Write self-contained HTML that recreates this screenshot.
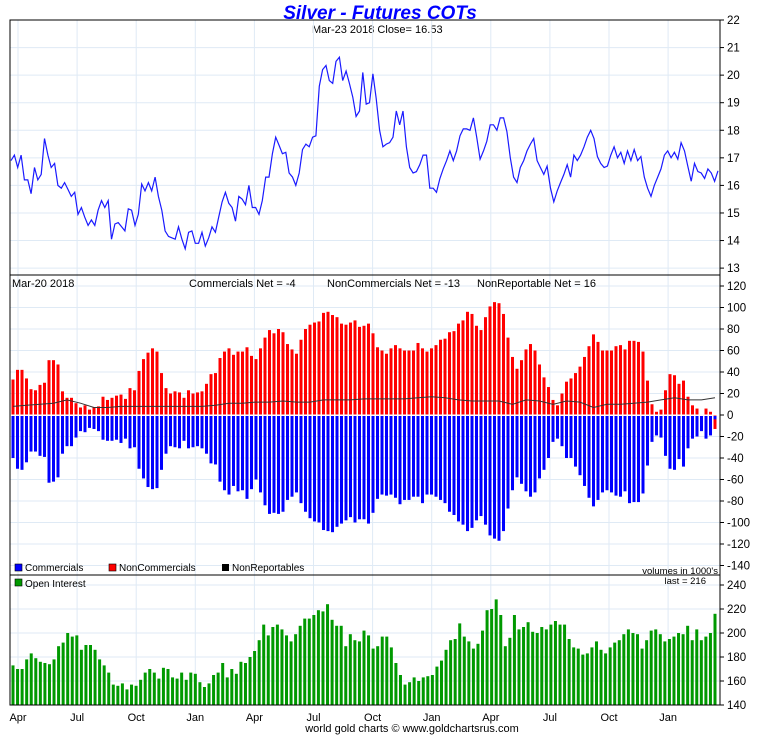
<!DOCTYPE html>
<html><head><meta charset="utf-8">
<style>
html,body{margin:0;padding:0;background:#fff;}
svg{display:block;font-family:"Liberation Sans",Arial,sans-serif;}
</style></head>
<body>
<svg id="chart" width="760" height="735" viewBox="0 0 760 735">
<rect x="0" y="0" width="760" height="735" fill="#fff"/>
<text x="380" y="19" text-anchor="middle" font-size="19" font-weight="bold" font-style="italic" fill="#0000ff">Silver - Futures COTs</text>
<text x="312" y="33" font-size="11" fill="#000">Mar-23  2018    Close= 16.53</text>
<g id="grid"></g>
<g id="price"></g>
<g id="cot"></g>
<g id="oi"></g>
<g id="axes"></g>
<text x="12" y="287" font-size="11">Mar-20  2018</text>
<text x="189" y="287" font-size="11">Commercials Net = -4</text>
<text x="327" y="287" font-size="11">NonCommercials Net = -13</text>
<text x="477" y="287" font-size="11">NonReportable Net = 16</text>
<g font-size="10">
<rect x="15" y="564" width="7" height="7" fill="#0000ff" stroke="#000" stroke-width="0.6"/>
<text x="25" y="571">Commercials</text>
<rect x="109" y="564" width="7" height="7" fill="#ff0000" stroke="#000" stroke-width="0.6"/>
<text x="119" y="571">NonCommercials</text>
<rect x="222" y="564" width="7" height="7" fill="#000"/>
<text x="232" y="571">NonReportables</text>
</g>
<text x="718" y="574" text-anchor="end" font-size="9.5">volumes in 1000's</text>
<rect x="15" y="579" width="7" height="7" fill="#009900" stroke="#000" stroke-width="0.6"/>
<text x="25" y="587" font-size="10">Open Interest</text>
<text x="706" y="584" text-anchor="end" font-size="9.5">last = 216</text>
<text x="412" y="732" text-anchor="middle" font-size="11">world gold charts © www.goldchartsrus.com</text>
</svg>
<script>
const monthLabels=["Apr","Jul","Oct","Jan","Apr","Jul","Oct","Jan","Apr","Jul","Oct","Jan"];
const priceTicks=[13,14,15,16,17,18,19,20,21,22];
const cotTicks=[-140,-120,-100,-80,-60,-40,-20,0,20,40,60,80,100,120];
const oiTicks=[140,160,180,200,220,240];
const priceValues=[16.9,17.1,16.65,17.1,16.2,16.2,15.7,16.65,16.2,16.4,17.7,17.1,16.65,16.8,16.0,15.9,16.1,15.85,15.6,15.75,14.95,15.2,14.85,14.55,14.75,14.55,15.1,15.45,15.2,15.45,14.05,14.6,14.65,14.5,14.35,15.15,15.1,14.55,14.95,16.05,15.8,16.1,15.8,16.3,15.6,15.1,14.35,14.15,14.1,14.05,14.5,14.05,13.7,14.3,14.35,13.9,13.9,14.3,13.8,14.1,14.5,14.3,14.85,15.4,15.75,15.35,15.2,14.7,15.6,15.5,15.3,16.0,15.2,15.2,14.95,15.45,16.3,16.3,17.15,17.75,17.45,17.15,17.2,16.45,16.3,16.0,16.45,17.3,17.5,17.4,17.75,17.8,19.6,20.2,20.35,19.8,19.7,20.5,20.65,19.8,20.15,19.7,19.2,18.5,18.7,20.1,18.95,19.0,20.05,19.15,18.0,17.4,17.5,17.55,17.75,18.7,18.2,18.7,17.4,16.65,16.45,16.5,16.75,17.1,17.1,15.9,15.9,15.75,16.25,16.6,16.9,17.25,16.9,17.25,17.8,18.05,18.05,18.0,18.45,17.75,16.95,17.25,17.6,18.2,18.2,18.0,18.45,18.45,17.95,17.0,16.3,16.1,16.65,16.9,17.25,17.5,17.7,16.9,16.65,16.4,16.7,15.9,15.4,15.8,16.1,16.4,16.75,16.3,17.1,16.9,17.1,17.4,17.75,18.0,17.7,17.05,16.8,16.65,16.7,17.1,17.4,17.0,17.2,16.8,17.25,16.9,17.3,16.9,17.05,16.3,15.9,15.6,16.0,16.3,16.6,17.1,17.25,17.0,17.2,16.95,17.55,17.25,16.7,16.15,16.8,16.5,16.45,16.25,16.6,16.45,16.15,16.53];
const nonCommercials=[33,42,42,34,24,23,28,30,51,51,47,22,16,16,11,7,9,5,7,8,17,14,16,18,19,15,25,23,41,52,58,62,59,39,25,20,22,21,16,23,20,21,22,29,38,39,53,59,62,56,59,59,63,55,52,62,72,79,76,80,77,66,61,57,70,80,84,86,87,95,96,93,91,85,84,86,88,82,83,85,76,63,60,57,62,65,62,60,60,60,67,62,59,62,65,70,71,77,78,85,88,96,94,83,79,91,101,105,104,94,72,54,43,51,61,66,60,47,35,26,14,9,20,31,34,39,45,54,64,75,68,60,60,60,64,65,61,69,69,68,59,32,10,3,5,23,38,37,29,32,17,9,6,0,6,3,-13];
const commercials=[-40,-50,-51,-44,-34,-34,-38,-39,-63,-62,-58,-36,-29,-29,-21,-15,-16,-12,-13,-15,-23,-24,-24,-23,-26,-22,-31,-30,-50,-59,-67,-69,-68,-51,-36,-29,-30,-31,-24,-31,-30,-29,-31,-36,-45,-46,-62,-70,-74,-66,-71,-70,-78,-69,-60,-72,-84,-92,-91,-92,-90,-79,-76,-72,-82,-90,-96,-99,-100,-107,-108,-109,-104,-101,-98,-95,-100,-97,-97,-101,-91,-78,-74,-75,-74,-77,-83,-79,-79,-76,-76,-82,-74,-74,-76,-79,-82,-90,-93,-99,-102,-108,-105,-98,-94,-102,-112,-115,-117,-108,-87,-70,-58,-64,-71,-76,-72,-59,-51,-40,-25,-22,-29,-40,-40,-48,-56,-66,-77,-85,-79,-72,-70,-72,-75,-76,-71,-82,-81,-81,-73,-47,-25,-19,-21,-38,-50,-51,-41,-48,-31,-22,-20,-15,-22,-19,-4];
const nonReportables=[8,9,10,11,14,11,7,7,8,8,8,8,8,8,8,9,11,11,12,12,13,12,12,14,14,14,15,15,15,15,16,17,16,14,13,13,13,10,14,13,10,13,12,7,10,10,11,12,14,16,14,14,16];
const openInterest=[173,170,170,178,183,179,176,175,174,178,189,192,200,197,198,186,190,190,186,178,173,167,157,156,158,153,157,156,161,167,170,167,162,171,170,163,162,167,161,167,166,159,155,158,165,167,175,163,170,166,176,175,180,185,194,207,198,205,207,203,198,193,199,206,212,212,215,219,218,224,211,206,206,189,199,194,193,202,198,187,189,197,197,188,175,165,157,159,163,160,163,164,165,172,177,186,194,195,208,197,193,187,191,202,219,220,228,215,189,196,215,203,205,209,201,200,205,203,207,210,207,207,195,188,187,182,183,188,193,186,183,188,192,194,199,203,200,199,187,194,202,203,199,193,195,197,200,199,206,194,203,194,197,200,216];

const NS="http://www.w3.org/2000/svg";
const L=10,R=720;
const monthX0=18,monthStep=59.1;
function mk(tag,attrs,parent){const e=document.createElementNS(NS,tag);for(const k in attrs)e.setAttribute(k,attrs[k]);parent.appendChild(e);return e;}
const yPrice=v=>20+(22-v)*(255/9.25);
const yCot=v=>415-v*(129/120);
const yOi=v=>705-(v-140)*1.2;
const barX0=13,barX1=715;
const xBar=(i,n)=>barX0+i*(barX1-barX0)/(n-1);

const grid=document.getElementById('grid');
const axes=document.getElementById('axes');
// vertical grid
monthLabels.forEach((m,i)=>{const x=monthX0+i*monthStep;
 const g=mk('line',{x1:x,x2:x,y1:20,y2:705,stroke:'#dfeaf5','stroke-width':1},grid);
 
 
 const t=mk('text',{x:x,y:721,'text-anchor':'middle','font-size':11},axes);t.textContent=m;
 
 
});
function hTicks(ticks,yf,top,bot){ticks.forEach(v=>{const y=yf(v);
 if(y>top+1&&y<bot-1){const g=mk('line',{x1:L,x2:R,y1:y,y2:y,stroke:'#dfeaf5','stroke-width':1},grid);
 
 }
 mk('line',{x1:R,x2:R+4,y1:y,y2:y,stroke:'#000'},axes);
 const t=mk('text',{x:R+7,y:y+4,'font-size':11.5},axes);t.textContent=v;
 
 });}
hTicks(priceTicks,yPrice,20,275);
hTicks(cotTicks,yCot,275,575);
hTicks(oiTicks,yOi,575,705);

// price line
const pg=document.getElementById('price');
let d='';priceValues.forEach((v,i)=>{const x=L+1+i*(R-L-3)/(priceValues.length-1);d+=(i?'L':'M')+x.toFixed(1)+' '+yPrice(v).toFixed(1);});
const pl=mk('path',{d:d,fill:'none',stroke:'#1a1aff','stroke-width':1.2},pg);



// COT bars
const cg=document.getElementById('cot');
nonCommercials.forEach((v,i)=>{const x=xBar(i,nonCommercials.length);const y0=yCot(0),y1=yCot(v);
 const r=mk('rect',{x:x-1.5,y:Math.min(y0,y1),width:3,height:Math.abs(y1-y0),fill:'#ff0000'},cg);
 
 });
commercials.forEach((v,i)=>{const x=xBar(i,commercials.length);const y0=yCot(0)+1,y1=yCot(v);
 if(v<0){const r=mk('rect',{x:x-1.5,y:y0,width:3,height:Math.max(0,y1-y0),fill:'#0000ff'},cg);
 
 }});
mk('line',{x1:L,x2:R,y1:yCot(0),y2:yCot(0),stroke:'#fff','stroke-width':1},cg);
let d2='';nonReportables.forEach((v,i)=>{const x=barX0+i*(barX1-barX0)/(nonReportables.length-1);d2+=(i?'L':'M')+x.toFixed(1)+' '+yCot(v).toFixed(1);});
const nl=mk('path',{d:d2,fill:'none',stroke:'#333','stroke-width':1},cg);



// OI bars
const og=document.getElementById('oi');
openInterest.forEach((v,i)=>{const x=xBar(i,openInterest.length);const y=yOi(v);
 const r=mk('rect',{x:x-1.5,y:y,width:3,height:705-y,fill:'#009900'},og);
 
 });

// frames
[[20,275],[275,575],[575,705]].forEach(p=>{const r=mk('rect',{x:L,y:p[0],width:R-L,height:p[1]-p[0],fill:'none',stroke:'#000','stroke-width':1},axes);
 
 });
</script>
</body></html>
